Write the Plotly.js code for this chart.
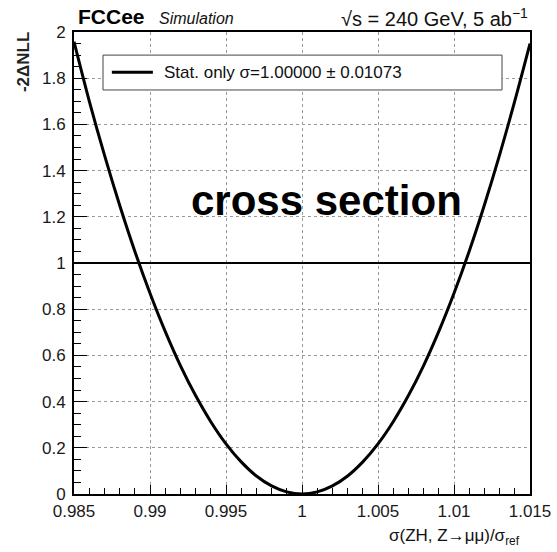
<!DOCTYPE html>
<html>
<head>
<meta charset="utf-8">
<script src="https://cdn.plot.ly/plotly-3.0.1.min.js"></script>
<style>
  html, body { margin: 0; padding: 0; background: #fff; }
  #chart { width: 557px; height: 552px; }
</style>
</head>
<body>
<div id="chart"></div>
<script>
// Likelihood scan of the ZH (Z -> mu mu) cross section, normalised to the reference
const sigmaRatio = [
  0.985, 0.986, 0.987, 0.988, 0.989, 0.990, 0.991, 0.992, 0.993, 0.994, 0.995,
  0.996, 0.997, 0.998, 0.999, 1.000, 1.001, 1.002, 1.003, 1.004, 1.005,
  1.006, 1.007, 1.008, 1.009, 1.010, 1.011, 1.012, 1.013, 1.014, 1.015
];
const minus2DeltaNLL = [
  1.958, 1.702, 1.468, 1.251, 1.051, 0.869, 0.704, 0.556, 0.426, 0.313, 0.217,
  0.139, 0.078, 0.035, 0.009, 0.000, 0.009, 0.035, 0.078, 0.139, 0.217,
  0.313, 0.426, 0.556, 0.704, 0.869, 1.051, 1.251, 1.468, 1.702, 1.950
];
const xTickLabels = ['0.985', '0.99', '0.995', '1', '1.005', '1.01', '1.015'];
const yTickLabels = ['0', '0.2', '0.4', '0.6', '0.8', '1', '1.2', '1.4', '1.6', '1.8', '2'];
const oneSigmaLevel = 1;
const legendLabel = 'Stat. only σ=1.00000 ± 0.01073';

const FONT = 'Liberation Sans, Arial, Helvetica, sans-serif';

const scan = {
  x: sigmaRatio,
  y: minus2DeltaNLL,
  type: 'scatter',
  mode: 'lines',
  line: { color: '#000', width: 3, shape: 'spline', smoothing: 1 },
  name: legendLabel,
  showlegend: false,
  hoverinfo: 'x+y'
};

const axisCommon = {
  showline: true, linecolor: '#000', linewidth: 2, mirror: true,
  ticks: 'inside', tickcolor: '#000', tickwidth: 1,
  showgrid: true, gridcolor: '#9a9a9a', gridwidth: 1, griddash: 'dot',
  zeroline: false,
  tickfont: { family: FONT, size: 17, color: '#1a1a1a' },
  tickmode: 'array'
};

const layout = {
  width: 557, height: 552,
  margin: { l: 74, r: 27, t: 32, b: 58, pad: 0 },
  paper_bgcolor: '#fff', plot_bgcolor: '#fff',
  font: { family: FONT, color: '#111' },
  xaxis: Object.assign({}, axisCommon, {
    range: [0.985, 1.015],
    tickvals: xTickLabels.map(Number),
    ticktext: xTickLabels,
    ticklen: 9,
    ticklabelstandoff: 1,
    minor: { dtick: 0.001, tick0: 0.985, ticks: 'inside', ticklen: 6, tickcolor: '#000', tickwidth: 1, showgrid: false }
  }),
  yaxis: Object.assign({}, axisCommon, {
    range: [0, 2],
    tickvals: yTickLabels.map(Number),
    ticktext: yTickLabels,
    ticklen: 13,
    ticklabelstandoff: 3,
    minor: { dtick: 0.05, tick0: 0, ticks: 'inside', ticklen: 7, tickcolor: '#000', tickwidth: 1, showgrid: false }
  }),
  shapes: [
    // horizontal reference at -2ΔNLL = 1
    { type: 'line', xref: 'paper', yref: 'y', x0: 0, x1: 1, y0: oneSigmaLevel, y1: oneSigmaLevel,
      line: { color: '#000', width: 2 }, layer: 'above' },
    // legend frame
    { type: 'rect', xref: 'paper', yref: 'paper', x0: 0.0636, x1: 0.9386, y0: 0.8745, y1: 0.950,
      fillcolor: '#fff', line: { color: '#444', width: 1 }, layer: 'above' },
    // legend line sample
    { type: 'line', xref: 'paper', yref: 'paper', x0: 0.083, x1: 0.173, y0: 0.913, y1: 0.913,
      line: { color: '#000', width: 3 }, layer: 'above' }
  ],
  annotations: [
    { text: legendLabel, xref: 'paper', yref: 'paper', x: 0.193, y: 0.913,
      xanchor: 'left', yanchor: 'middle', showarrow: false,
      font: { family: FONT, size: 17, color: '#111' } },
    { text: '<b>FCCee</b>', xref: 'paper', yref: 'paper', x: 0.004, y: 1.033,
      xanchor: 'left', yanchor: 'middle', showarrow: false,
      font: { family: FONT, size: 21, color: '#000' } },
    { text: '<i>Simulation</i>', xref: 'paper', yref: 'paper', x: 0.183, y: 1.029,
      xanchor: 'left', yanchor: 'middle', showarrow: false,
      font: { family: FONT, size: 16, color: '#111' } },
    { text: '√s = 240 GeV, 5 ab<sup>−1</sup>', xref: 'paper', yref: 'paper', x: 1.0, y: 1.031,
      xanchor: 'right', yanchor: 'middle', showarrow: false,
      font: { family: FONT, size: 20, color: '#111' } },
    { text: '<b>cross section</b>', xref: 'paper', yref: 'paper', x: 0.553, y: 0.636,
      xanchor: 'center', yanchor: 'middle', showarrow: false,
      font: { family: FONT, size: 42, color: '#000' } },
    { text: '<b>-2ΔNLL</b>', xref: 'paper', yref: 'paper', x: -0.112, y: 1.004,
      xanchor: 'center', yanchor: 'top', textangle: -90, showarrow: false,
      font: { family: FONT, size: 17, color: '#222' } },
    { text: 'σ(ZH, Z→μμ)/σ<sub>ref</sub>', xref: 'paper', yref: 'paper', x: 0.982, y: -0.064,
      xanchor: 'right', yanchor: 'top', showarrow: false,
      font: { family: FONT, size: 17, color: '#111' } }
  ],
  showlegend: false
};

Plotly.newPlot('chart', [scan], layout, { displayModeBar: false, staticPlot: true });
</script>
</body>
</html>
